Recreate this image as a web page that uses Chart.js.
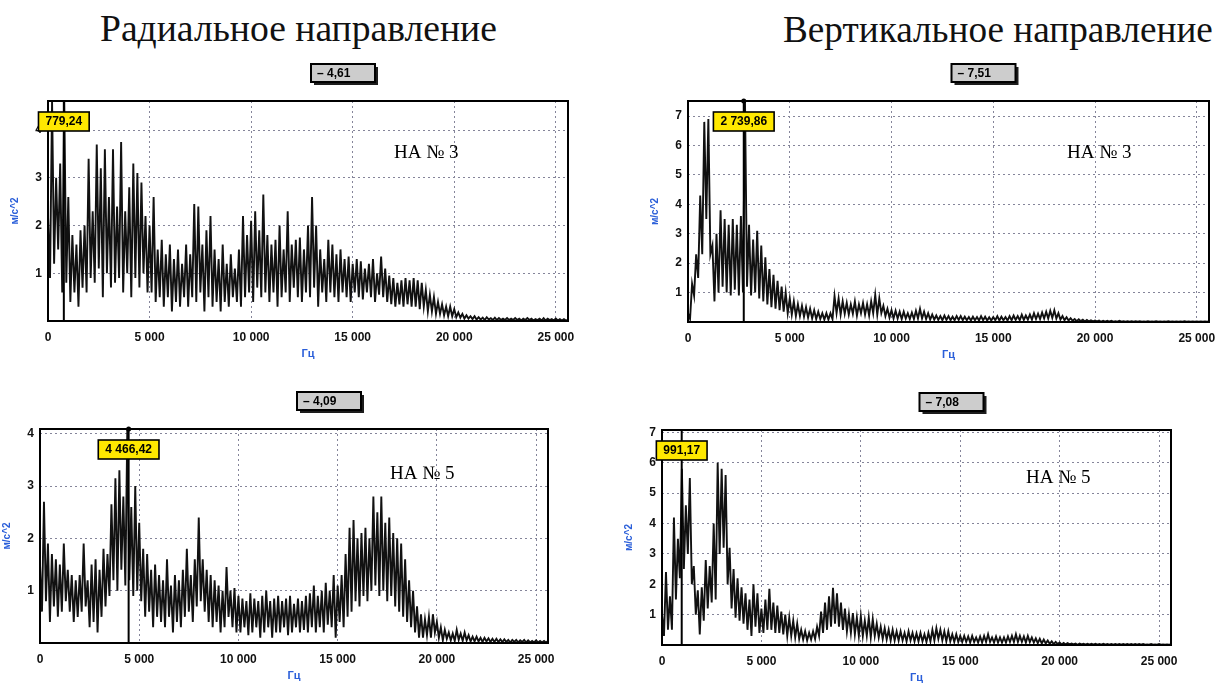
<!DOCTYPE html>
<html>
<head>
<meta charset="utf-8">
<script src="https://cdn.jsdelivr.net/npm/chart.js@4.4.1/dist/chart.umd.min.js"></script>
<style>
body { margin: 0; width: 1221px; height: 684px; background: #fff; position: relative; overflow: hidden; }
.ttl { position: absolute; font-family: "Liberation Serif", "Times New Roman", serif; line-height: 1; white-space: nowrap; color: #111; }
canvas { position: absolute; }
</style>
</head>
<body>
<div class="ttl" id="title1" data-w="397" data-x="100" data-base="42">Радиальное направление</div>
<div class="ttl" id="title2" data-w="430" data-x="783" data-base="42">Вертикальное направление</div>
<canvas id="radial3"></canvas>
<canvas id="vertical3"></canvas>
<canvas id="radial5"></canvas>
<canvas id="vertical5"></canvas>
<script>
// Spectrum data: one peak and one trough per 200 Hz band
const freqStep = 200;
const freqMax = 25600;
const freqTicks = [0, 5000, 10000, 15000, 20000, 25000];
const ampTicks = [0, 1, 2, 3, 4, 5, 6, 7];

// Radial, НА № 3
const radial3Peaks = [
    2.2, 4.6, 3.0, 3.3, 4.61, 2.6, 1.8, 1.6, 1.9, 2.0,
    3.4, 2.3, 3.7, 3.2, 3.6, 2.6, 3.6, 2.4, 3.75, 2.3,
    2.8, 3.3, 3.1, 2.9, 2.2, 2.0, 2.6, 1.5, 1.7, 1.4,
    1.6, 1.3, 1.5, 1.2, 1.6, 1.4, 2.45, 2.4, 1.6, 1.9,
    2.2, 1.5, 1.3, 1.6, 1.2, 1.4, 1.1, 1.5, 2.2, 1.8,
    2.1, 2.3, 1.9, 2.65, 1.8, 1.6, 1.7, 2.0, 1.5, 2.3,
    1.6, 1.7, 1.75, 1.5, 2.0, 2.6, 2.0, 1.5, 1.3, 1.7,
    1.6, 1.4, 1.5, 1.3, 1.35, 1.2, 1.3, 1.25, 1.1, 1.2,
    1.3, 1.0, 1.35, 1.1, 0.95, 0.9, 0.8, 0.85, 0.9, 0.85,
    0.9, 0.85, 0.8, 0.65, 0.55, 0.5, 0.4, 0.35, 0.3, 0.3,
    0.25, 0.18, 0.15, 0.12, 0.1, 0.1, 0.08, 0.07, 0.08, 0.06,
    0.07, 0.06, 0.05, 0.06, 0.05, 0.06, 0.05, 0.05, 0.06, 0.05,
    0.04, 0.05, 0.06, 0.05, 0.04, 0.05, 0.04, 0.04, 0.03
];
const radial3Troughs = [
    0.9, 1.2, 1.5, 0.6, 0.8, 0.4, 0.6, 0.3, 0.7, 0.6,
    0.9, 0.8, 1.1, 0.5, 1.0, 0.7, 0.8, 0.9, 0.6, 1.0,
    0.5, 0.9, 0.7, 1.0, 0.6, 0.6, 0.4, 0.5, 0.3, 0.5,
    0.2, 0.4, 0.3, 0.5, 0.3, 0.5, 0.4, 0.6, 0.2, 0.5,
    0.3, 0.4, 0.2, 0.4, 0.3, 0.5, 0.4, 0.3, 0.5, 0.6,
    0.4, 0.7, 0.5, 0.6, 0.4, 0.6, 0.3, 0.5, 0.6, 0.4,
    0.7, 0.5, 0.4, 0.6, 0.5, 0.7, 0.3, 0.6, 0.4, 0.6,
    0.5, 0.4, 0.6, 0.5, 0.4, 0.6, 0.5, 0.45, 0.6, 0.5,
    0.4, 0.55, 0.5, 0.4, 0.35, 0.3, 0.35, 0.3, 0.35, 0.3,
    0.3, 0.25, 0.3, 0.2, 0.2, 0.15, 0.15, 0.12, 0.1, 0.1,
    0.08, 0.07, 0.05, 0.05, 0.04, 0.03, 0.03, 0.02, 0.03, 0.02,
    0.02, 0.02, 0.02, 0.02, 0.02, 0.02, 0.01, 0.02, 0.02, 0.01,
    0.02, 0.01, 0.01, 0.02, 0.01, 0.01, 0.01, 0.01, 0.01
];

// Vertical, НА № 3
const vertical3Peaks = [
    0.3, 1.3, 2.3, 4.3, 6.8, 6.9, 2.6, 3.0, 3.8, 3.5,
    3.3, 3.5, 3.3, 3.6, 7.51, 3.3, 2.8, 3.1, 2.6, 2.2,
    1.8, 1.6, 1.4, 1.2, 1.0, 0.8, 0.7, 0.6, 0.55, 0.5,
    0.45, 0.4, 0.35, 0.3, 0.3, 0.3, 0.88, 0.8, 0.7, 0.65,
    0.6, 0.7, 0.6, 0.65, 0.6, 0.7, 0.92, 0.8, 0.55, 0.45,
    0.4, 0.38, 0.35, 0.35, 0.3, 0.32, 0.38, 0.45, 0.35, 0.3,
    0.25, 0.22, 0.2, 0.22, 0.2, 0.18, 0.2, 0.2, 0.18, 0.17,
    0.18, 0.17, 0.2, 0.18, 0.16, 0.17, 0.2, 0.18, 0.17, 0.2,
    0.22, 0.2, 0.25, 0.22, 0.25, 0.3, 0.28, 0.32, 0.35, 0.38,
    0.4, 0.3, 0.2, 0.16, 0.13, 0.1, 0.09, 0.08, 0.07, 0.06,
    0.05, 0.05, 0.04, 0.04, 0.04, 0.03, 0.04, 0.03, 0.03, 0.03,
    0.03, 0.03, 0.02, 0.03, 0.02, 0.03, 0.02, 0.02, 0.03, 0.02,
    0.02, 0.02, 0.03, 0.02, 0.02, 0.02, 0.02, 0.02, 0.02
];
const vertical3Troughs = [
    0.1, 0.9, 1.5, 2.3, 3.5, 2.3, 0.7, 1.0, 1.2, 1.0,
    0.9, 1.1, 0.9, 1.0, 1.2, 0.9, 1.0, 0.8, 0.7, 0.6,
    0.5, 0.45, 0.4, 0.35, 0.3, 0.25, 0.2, 0.2, 0.18, 0.15,
    0.12, 0.1, 0.1, 0.08, 0.08, 0.1, 0.3, 0.25, 0.28, 0.25,
    0.28, 0.22, 0.3, 0.25, 0.22, 0.3, 0.25, 0.3, 0.2, 0.15,
    0.12, 0.12, 0.1, 0.12, 0.1, 0.1, 0.12, 0.12, 0.1, 0.08,
    0.08, 0.07, 0.06, 0.07, 0.06, 0.06, 0.07, 0.06, 0.06, 0.05,
    0.06, 0.05, 0.06, 0.05, 0.05, 0.06, 0.05, 0.06, 0.05, 0.06,
    0.07, 0.06, 0.07, 0.08, 0.08, 0.1, 0.1, 0.12, 0.12, 0.14,
    0.12, 0.08, 0.06, 0.05, 0.04, 0.03, 0.03, 0.02, 0.02, 0.02,
    0.02, 0.01, 0.01, 0.01, 0.01, 0.01, 0.01, 0.01, 0.01, 0.01,
    0.01, 0.01, 0.01, 0.01, 0.01, 0.01, 0.01, 0.01, 0.01, 0.01,
    0.01, 0.01, 0.01, 0.01, 0.01, 0.01, 0.01, 0.01, 0.01
];

// Radial, НА № 5
const radial5Peaks = [
    1.5, 2.7, 1.9, 1.7, 1.6, 1.5, 1.9, 1.4, 1.3, 1.2,
    1.3, 1.9, 1.2, 1.5, 1.6, 1.4, 1.8, 1.7, 2.65, 3.15,
    3.3, 2.8, 4.09, 2.6, 3.0, 2.3, 1.8, 1.7, 1.4, 1.5,
    1.3, 1.2, 1.6, 1.1, 1.3, 1.2, 1.4, 1.8, 1.3, 1.6,
    2.4, 1.6, 1.4, 1.3, 1.2, 1.1, 1.0, 1.45, 1.0, 1.05,
    0.9, 0.85, 0.8, 0.95, 0.85, 0.8, 0.9, 1.0, 0.8, 0.85,
    0.9, 0.8, 0.85, 0.9, 0.75, 0.85, 0.8, 0.9, 0.95, 1.1,
    0.9, 1.0, 1.15, 1.0, 1.3, 1.1, 1.3, 1.7, 2.2, 2.35,
    2.0, 2.1, 2.2, 2.0, 2.8, 2.5, 2.8, 2.3, 2.4, 2.1,
    2.0, 1.9, 1.6, 1.2, 1.0, 0.7, 0.55, 0.45, 0.5, 0.55,
    0.4, 0.3, 0.25, 0.2, 0.18, 0.25, 0.18, 0.2, 0.15, 0.12,
    0.12, 0.1, 0.1, 0.09, 0.08, 0.08, 0.07, 0.07, 0.06, 0.06,
    0.06, 0.05, 0.06, 0.05, 0.04, 0.05, 0.04, 0.04, 0.04
];
const radial5Troughs = [
    0.6, 0.8, 0.4, 0.7, 0.5, 0.6, 0.8, 0.6, 0.4, 0.5,
    0.6, 0.7, 0.3, 0.4, 0.2, 0.5, 0.7, 0.9, 1.2, 1.0,
    1.4, 1.1, 1.2, 0.9, 1.0, 0.8, 0.5, 0.6, 0.3, 0.5,
    0.4, 0.3, 0.5, 0.2, 0.4, 0.3, 0.5, 0.6, 0.4, 0.7,
    0.8, 0.6, 0.4, 0.3, 0.4, 0.2, 0.3, 0.5, 0.3, 0.2,
    0.2, 0.3, 0.15, 0.2, 0.3, 0.1, 0.2, 0.3, 0.1, 0.2,
    0.2, 0.3, 0.15, 0.2, 0.3, 0.2, 0.25, 0.2, 0.3, 0.2,
    0.3, 0.2, 0.35, 0.3, 0.1, 0.4, 0.3, 0.5, 0.6, 0.8,
    0.7, 0.9, 0.8, 1.0, 1.1, 0.9, 1.0, 0.8, 0.9, 0.7,
    0.6, 0.5, 0.4, 0.3, 0.2, 0.1, 0.1, 0.15, 0.1, 0.2,
    0.1, 0.05, 0.08, 0.05, 0.04, 0.06, 0.04, 0.05, 0.03, 0.03,
    0.03, 0.02, 0.03, 0.02, 0.02, 0.02, 0.02, 0.02, 0.01, 0.02,
    0.01, 0.02, 0.01, 0.01, 0.01, 0.01, 0.01, 0.01, 0.01
];

// Vertical, НА № 5
const vertical5Peaks = [
    1.0, 2.4, 1.6, 4.2, 3.5, 5.8, 4.6, 5.5, 2.6, 1.8,
    1.9, 2.8, 2.6, 4.0, 6.0, 5.8, 5.6, 3.2, 2.5, 2.2,
    1.9, 1.7, 1.5, 2.0, 1.7, 1.2, 1.5, 1.85, 1.4, 1.3,
    1.1, 1.0, 0.9, 0.8, 0.7, 0.5, 0.45, 0.4, 0.45, 0.6,
    1.1, 1.4, 1.6, 1.88, 1.7, 1.4, 1.2, 1.0, 1.05, 0.9,
    0.95, 0.8, 0.9, 0.85, 0.7, 0.6, 0.55, 0.5, 0.5, 0.45,
    0.45, 0.4, 0.45, 0.4, 0.38, 0.4, 0.35, 0.4, 0.5, 0.55,
    0.5, 0.45, 0.45, 0.35, 0.35, 0.3, 0.3, 0.28, 0.3, 0.25,
    0.28, 0.3, 0.35, 0.25, 0.28, 0.25, 0.25, 0.28, 0.3, 0.35,
    0.3, 0.28, 0.3, 0.25, 0.22, 0.2, 0.18, 0.15, 0.12, 0.1,
    0.08, 0.07, 0.06, 0.05, 0.05, 0.05, 0.04, 0.04, 0.04, 0.04,
    0.03, 0.04, 0.03, 0.03, 0.03, 0.03, 0.03, 0.03, 0.03, 0.03,
    0.03, 0.03, 0.02, 0.03, 0.02, 0.03, 0.02, 0.02, 0.02
];
const vertical5Troughs = [
    0.3, 0.5, 0.5, 1.5, 2.2, 2.5, 3.0, 2.0, 1.0, 0.35,
    0.8, 1.2, 1.4, 1.5, 3.0, 3.2, 2.0, 1.2, 0.9, 0.8,
    0.7, 0.5, 0.3, 0.6, 0.4, 0.4, 0.5, 0.5, 0.4, 0.4,
    0.35, 0.3, 0.3, 0.25, 0.2, 0.18, 0.15, 0.18, 0.2, 0.3,
    0.4, 0.5, 0.6, 0.7, 0.6, 0.5, 0.45, 0.4, 0.35, 0.3,
    0.3, 0.3, 0.25, 0.3, 0.25, 0.2, 0.18, 0.15, 0.15, 0.15,
    0.15, 0.12, 0.15, 0.12, 0.12, 0.12, 0.1, 0.12, 0.15, 0.2,
    0.15, 0.12, 0.12, 0.1, 0.1, 0.1, 0.1, 0.08, 0.1, 0.08,
    0.08, 0.1, 0.1, 0.08, 0.08, 0.08, 0.08, 0.1, 0.1, 0.1,
    0.1, 0.08, 0.1, 0.08, 0.06, 0.05, 0.05, 0.04, 0.03, 0.03,
    0.02, 0.02, 0.02, 0.02, 0.01, 0.02, 0.01, 0.01, 0.01, 0.01,
    0.01, 0.01, 0.01, 0.01, 0.01, 0.01, 0.01, 0.01, 0.01, 0.01,
    0.01, 0.01, 0.01, 0.01, 0.01, 0.01, 0.01, 0.01, 0.01
];

// titles: fit width, place baseline
document.querySelectorAll('.ttl').forEach(function (el) {
    el.style.fontSize = '100px';
    const w = el.getBoundingClientRect().width;
    const fs = 100 * (+el.dataset.w) / w;
    el.style.fontSize = fs + 'px';
    el.style.left = el.dataset.x + 'px';
    el.style.top = (+el.dataset.base - 0.8375 * fs) + 'px';
});

function zigzag(peaks, troughs) {
    const pts = [];
    peaks.forEach(function (p, i) {
        pts.push({ x: i * freqStep, y: p });
        pts.push({ x: i * freqStep + freqStep / 2, y: troughs[i] });
    });
    return pts;
}

function spaced(v) {
    return String(v).replace(/\B(?=(\d{3})+(?!\d))/g, ' ');
}

const blue = '#2b5fd9';
const gridColor = '#85859a';
const tickFont = { family: '"Liberation Sans", Arial, sans-serif', size: 12, weight: 'bold' };

// frame, cursor, value box and НА label
const overlay = {
    id: 'overlay',
    afterDraw(chart, args, o) {
        const ctx = chart.ctx;
        const a = chart.chartArea;
        ctx.save();
        ctx.strokeStyle = '#000';
        ctx.fillStyle = '#000';
        ctx.lineWidth = 2;
        ctx.strokeRect(a.left, a.top, a.right - a.left, a.bottom - a.top);

        const cx = chart.scales.x.getPixelForValue(o.cursor);
        ctx.beginPath();
        ctx.moveTo(cx, a.top);
        ctx.lineTo(cx, a.bottom);
        ctx.stroke();
        if (o.dot) {
            ctx.beginPath();
            ctx.arc(cx, a.top, 2.5, 0, Math.PI * 2);
            ctx.fill();
        }

        ctx.font = 'bold 12px "Liberation Sans", Arial, sans-serif';
        ctx.textBaseline = 'middle';
        const tw = ctx.measureText(o.cursorText).width + 14;
        const bx = cx - tw / 2, by = a.top + 11;
        ctx.fillStyle = '#ffe800';
        ctx.fillRect(bx, by, tw, 19);
        ctx.lineWidth = 1.6;
        ctx.strokeRect(bx, by, tw, 19);
        ctx.fillStyle = '#000';
        ctx.textAlign = 'center';
        ctx.fillText(o.cursorText, cx, by + 10);

        const vw = 64, vh = 18;
        const vx = (a.left + a.right) / 2 + 35 - vw / 2, vy = a.top - 37;
        ctx.fillStyle = '#1c1c1c';
        ctx.fillRect(vx + 3, vy + 3, vw, vh);
        ctx.fillStyle = '#cdcdcd';
        ctx.fillRect(vx, vy, vw, vh);
        ctx.lineWidth = 2;
        ctx.strokeRect(vx, vy, vw, vh);
        ctx.fillStyle = '#000';
        ctx.textAlign = 'left';
        ctx.font = 'bold 12px "Liberation Sans", Arial, sans-serif';
        ctx.fillText(o.valueText, vx + 6, vy + vh / 2 + 1);

        ctx.font = '19px "Liberation Serif", "Times New Roman", serif';
        ctx.fillText(o.na, a.left + o.naAt[0], a.top + o.naAt[1]);
        ctx.restore();
    }
};

const panels = [
    { id: 'radial3', frame: [48, 101, 568, 321], yMax: 4.61, peaks: radial3Peaks, troughs: radial3Troughs,
      cursor: 779.24, cursorText: '779,24', valueText: '– 4,61', na: 'НА № 3', naAt: [346, 52], dot: false },
    { id: 'vertical3', frame: [688, 101, 1209, 322], yMax: 7.51, peaks: vertical3Peaks, troughs: vertical3Troughs,
      cursor: 2739.86, cursorText: '2 739,86', valueText: '– 7,51', na: 'НА № 3', naAt: [379, 52], dot: true },
    { id: 'radial5', frame: [40, 429, 548, 643], yMax: 4.09, peaks: radial5Peaks, troughs: radial5Troughs,
      cursor: 4466.42, cursorText: '4 466,42', valueText: '– 4,09', na: 'НА № 5', naAt: [350, 45], dot: true },
    { id: 'vertical5', frame: [662, 430, 1171, 645], yMax: 7.08, peaks: vertical5Peaks, troughs: vertical5Troughs,
      cursor: 991.17, cursorText: '991,17', valueText: '– 7,08', na: 'НА № 5', naAt: [364, 48], dot: false }
];

const padTop = 45, padRight = 22, yAxisW = 47, xAxisH = 40;

panels.forEach(function (p) {
    const [l, t, r, b] = p.frame;
    const canvas = document.getElementById(p.id);
    canvas.width = (r - l) + yAxisW + padRight;
    canvas.height = (b - t) + padTop + xAxisH;
    canvas.style.left = (l - yAxisW) + 'px';
    canvas.style.top = (t - padTop) + 'px';

    new Chart(canvas, {
        type: 'line',
        data: {
            datasets: [{
                data: zigzag(p.peaks, p.troughs),
                borderColor: '#111',
                borderWidth: 1.9,
                pointRadius: 0,
                tension: 0,
                fill: false
            }]
        },
        options: {
            responsive: false,
            animation: false,
            layout: { padding: { top: padTop, right: padRight, left: 0, bottom: 0 } },
            plugins: {
                legend: { display: false },
                tooltip: { enabled: false },
                overlay: p
            },
            scales: {
                x: {
                    type: 'linear',
                    min: 0,
                    max: freqMax,
                    afterBuildTicks: function (s) { s.ticks = freqTicks.map(function (v) { return { value: v }; }); },
                    afterFit: function (s) { s.height = xAxisH; },
                    grid: { color: gridColor, drawTicks: false, lineWidth: 1 },
                    border: { display: false, dash: [2, 3] },
                    ticks: { autoSkip: false, maxRotation: 0, padding: 9, color: '#111', font: tickFont,
                             callback: function (v) { return spaced(v); } },
                    title: { display: true, text: 'Гц', color: blue, padding: 0,
                             font: { family: '"Liberation Sans", Arial, sans-serif', size: 11, weight: 'bold' } }
                },
                y: {
                    min: 0,
                    max: p.yMax,
                    afterBuildTicks: function (s) {
                        s.ticks = ampTicks.filter(function (v) { return v <= p.yMax; }).map(function (v) { return { value: v }; });
                    },
                    afterFit: function (s) { s.width = yAxisW; },
                    grid: { color: gridColor, drawTicks: false, lineWidth: 1 },
                    border: { display: false, dash: [2, 3] },
                    ticks: { padding: 6, color: '#111', font: tickFont,
                             callback: function (v) { return v === 0 ? '' : v; } },
                    title: { display: true, text: 'м/с^2', color: blue, padding: { top: 8, bottom: 0 },
                             font: { family: '"Liberation Sans", Arial, sans-serif', size: 10, weight: 'bold' } }
                }
            }
        },
        plugins: [overlay]
    });
});
</script>
</body>
</html>
